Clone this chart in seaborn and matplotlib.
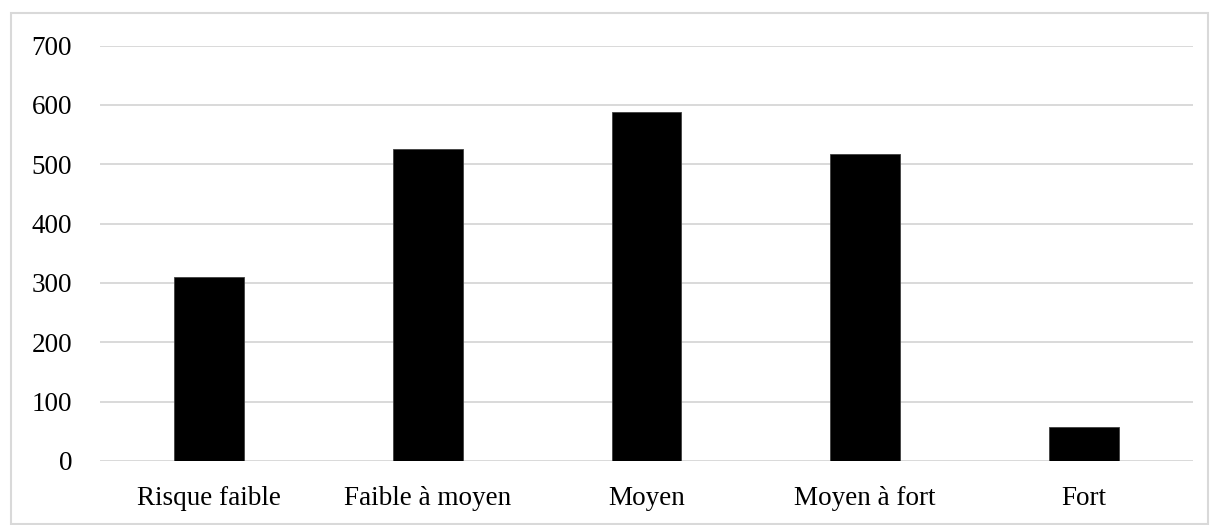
import matplotlib
matplotlib.use("Agg")
import matplotlib.pyplot as plt
from matplotlib.patches import Rectangle
import seaborn as sns
import pandas as pd

categories = ["Risque faible", "Faible à moyen", "Moyen", "Moyen à fort", "Fort"]
values = [310, 525, 588, 518, 57]
yticks = [0, 100, 200, 300, 400, 500, 600, 700]

sns.set_style("white")
plt.rcParams["font.family"] = ["Liberation Serif", "DejaVu Serif"]

df = pd.DataFrame({"categorie": categories, "valeur": values})

fig = plt.figure(figsize=(12.1, 5.25), dpi=100)
ax = fig.add_axes([100 / 1210, 64 / 525, 1093 / 1210, (461 - 45.5) / 525])

sns.barplot(data=df, x="categorie", y="valeur", color="black", width=0.32,
            edgecolor="#404040", linewidth=0.6, saturation=1, ax=ax, zorder=3)

ax.set_ylim(0, 700)
ax.set_yticks(yticks)
ax.set_yticklabels([str(t) for t in yticks])
ax.grid(axis="y", color="#d9d9d9", linewidth=1.4, zorder=0)
ax.set_axisbelow(True)
for s in ax.spines.values():
    s.set_visible(False)
ax.tick_params(axis="both", length=0, labelsize=19.5, colors="black")
ax.tick_params(axis="y", pad=20)
ax.tick_params(axis="x", pad=18)
ax.set_xlabel("")
ax.set_ylabel("")

# light frame around the whole chart area
fig.patches.append(Rectangle((11 / 1210, 1 / 525), 1197 / 1210, 511 / 525,
                             transform=fig.transFigure, fill=False,
                             edgecolor="#d9d9d9", linewidth=1.5))

fig.savefig("out.png", dpi=100)
